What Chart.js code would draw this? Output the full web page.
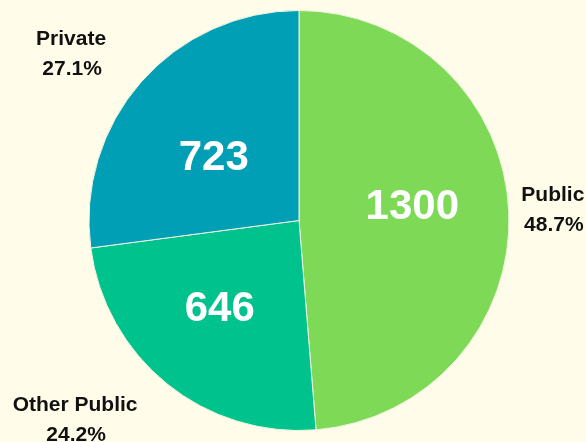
<!DOCTYPE html>
<html>
<head>
<meta charset="utf-8">
<script src="https://cdn.jsdelivr.net/npm/chart.js@4/dist/chart.umd.min.js"></script>
<style>
  html, body { margin: 0; padding: 0; background: #fffde9; }
  #wrap { width: 586px; height: 442px; position: relative; }
</style>
</head>
<body>
<div id="wrap"><canvas id="c" width="586" height="442"></canvas></div>
<script>
const categories = ["Public", "Other Public", "Private"];
const values = [1300, 646, 723];
const colors = ["#7ed957", "#00c28d", "#009fb5"];

const total = values.reduce((a, b) => a + b, 0);
const pctLabels = values.map(v => (v / total * 100).toFixed(1) + "%");

const labelPlugin = {
  id: "pieLabels",
  afterDatasetsDraw(chart, args, opts) {
    const ctx = chart.ctx;
    const meta = chart.getDatasetMeta(0);
    meta.data.forEach((arc, i) => {
      const p = arc.getProps(["x", "y", "startAngle", "endAngle", "outerRadius"], true);
      const mid = (p.startAngle + p.endAngle) / 2;
      const ri = p.outerRadius * opts.innerFrac;
      const n = opts.innerNudge[i];
      const ix = p.x + Math.cos(mid) * ri + n[0];
      const iy = p.y + Math.sin(mid) * ri + n[1];
      ctx.save();
      ctx.fillStyle = "#ffffff";
      ctx.font = "bold 42px 'Liberation Sans', Arial, sans-serif";
      ctx.textAlign = "center";
      ctx.textBaseline = "middle";
      ctx.fillText(String(values[i]), ix, iy);
      const ex = p.x + Math.cos(mid) * p.outerRadius;
      const ey = p.y + Math.sin(mid) * p.outerRadius;
      const o = opts.outerNudge[i];
      ctx.fillStyle = "#111111";
      ctx.font = "bold 21px 'Liberation Sans', Arial, sans-serif";
      ctx.fillText(categories[i], ex + o[0], ey + o[1]);
      ctx.fillText(pctLabels[i], ex + o[0] + 1, ey + o[1] + 30);
      ctx.restore();
    });
  }
};

new Chart(document.getElementById("c"), {
  type: "pie",
  data: {
    labels: categories,
    datasets: [{
      data: values,
      backgroundColor: colors,
      borderColor: "#f2f5e0",
      borderWidth: 1
    }]
  },
  options: {
    responsive: false,
    animation: false,
    rotation: 0,
    layout: { padding: { top: 10, bottom: 11, left: 12, right: 0 } },
    plugins: {
      legend: { display: false },
      tooltip: { enabled: false },
      title: { display: false },
      pieLabels: {
        innerFrac: 0.54,
        innerNudge: [[0, -8], [-8, 1], [0, 13]],
        outerNudge: [[44, -17], [-92, 21], [-70, -43]]
      }
    }
  },
  plugins: [labelPlugin]
});
</script>
</body>
</html>
